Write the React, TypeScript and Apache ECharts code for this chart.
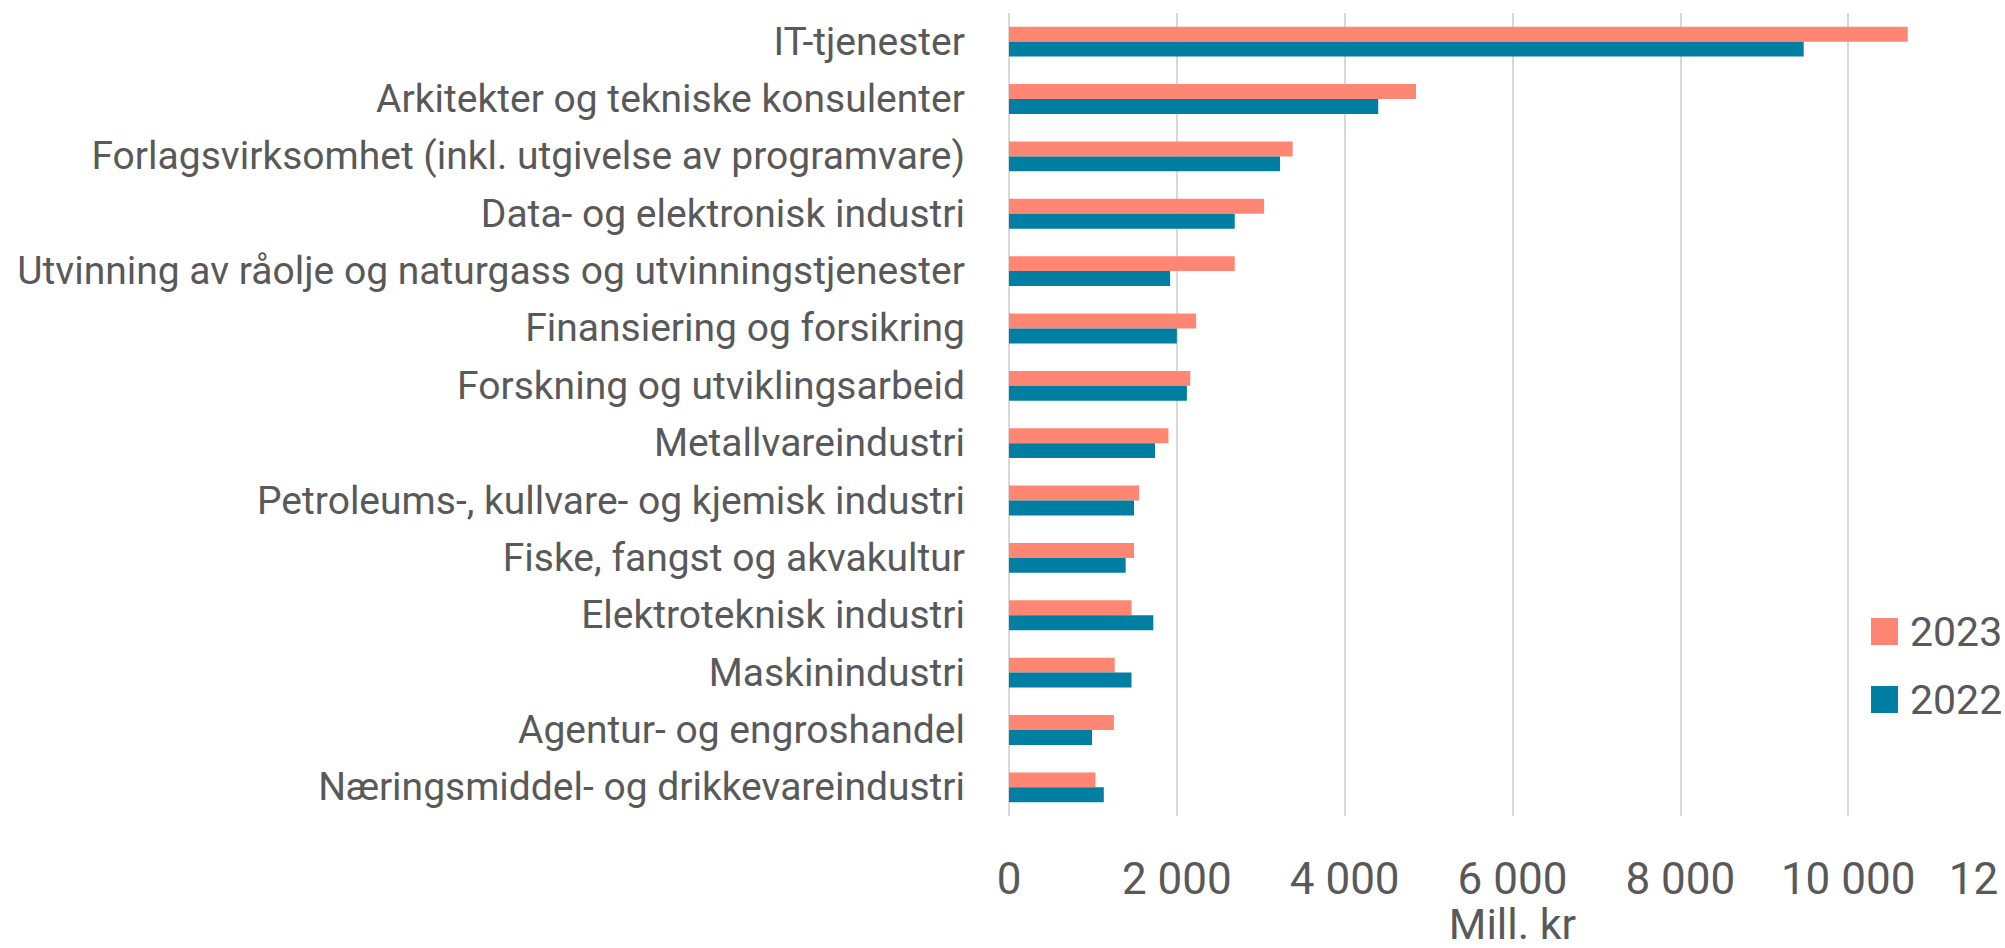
import React, { useEffect, useRef } from "react";
import * as echarts from "echarts";

const categories = [
  "IT-tjenester",
  "Arkitekter og tekniske konsulenter",
  "Forlagsvirksomhet (inkl. utgivelse av programvare)",
  "Data- og elektronisk industri",
  "Utvinning av råolje og naturgass og utvinningstjenester",
  "Finansiering og forsikring",
  "Forskning og utviklingsarbeid",
  "Metallvareindustri",
  "Petroleums-, kullvare- og kjemisk industri",
  "Fiske, fangst og akvakultur",
  "Elektroteknisk industri",
  "Maskinindustri",
  "Agentur- og engroshandel",
  "Næringsmiddel- og drikkevareindustri",
];

const values2023 = [10710, 4850, 3380, 3040, 2690, 2230, 2160, 1900, 1550, 1490, 1460, 1260, 1250, 1030];
const values2022 = [9470, 4400, 3230, 2690, 1920, 2000, 2120, 1740, 1490, 1390, 1720, 1460, 990, 1130];

const xTicks = { min: 0, max: 12000, interval: 2000 };
const axisName = "Mill. kr";

const TEXT = "#595959";
const FONT = "Roboto";

function fmt(v: number): string {
  return String(v).replace(/\B(?=(\d{3})+(?!\d))/g, " ");
}

export default function App() {
  const ref = useRef<HTMLDivElement>(null);
  useEffect(() => {
    document.body.style.margin = "0";
    const chart = echarts.init(ref.current!, null, { renderer: "svg" });
    chart.setOption({
      animation: false,
      backgroundColor: "#ffffff",
      textStyle: { fontFamily: FONT, color: TEXT },
      grid: {
        left: 1009,
        right: -11,
        top: 13,
        bottom: 132,
        containLabel: false,
        outerBoundsMode: "none",
      },
      legend: {
        orient: "vertical",
        left: 1866,
        top: 606,
        icon: "rect",
        itemWidth: 27,
        itemHeight: 27,
        itemGap: 27,
        data: ["2023", "2022"],
        textStyle: { fontFamily: FONT, fontSize: 41, color: TEXT, padding: [0, 0, 0, 7] },
      },
      xAxis: {
        type: "value",
        min: xTicks.min,
        max: xTicks.max,
        interval: xTicks.interval,
        name: axisName,
        nameLocation: "middle",
        nameGap: 88,
        nameMoveOverlap: false,
        nameTextStyle: { fontFamily: FONT, fontSize: 43, lineHeight: 40, color: TEXT },
        axisLine: { show: false },
        axisTick: { show: false },
        axisLabel: {
          fontFamily: FONT,
          fontSize: 44,
          color: TEXT,
          margin: 41,
          formatter: (v: number) => fmt(v),
        },
        splitLine: { show: true, lineStyle: { color: "#D9D9D9", width: 2 } },
      },
      yAxis: {
        type: "category",
        inverse: true,
        data: categories,
        axisLine: { show: false },
        axisTick: { show: false },
        axisLabel: { fontFamily: FONT, fontSize: 39, color: TEXT, margin: 44 },
      },
      series: [
        {
          name: "2023",
          type: "bar",
          data: values2023,
          barGap: "0%",
          barCategoryGap: "48%",
          itemStyle: { color: "#FF8672" },
        },
        {
          name: "2022",
          type: "bar",
          data: values2022,
          barGap: "0%",
          barCategoryGap: "48%",
          itemStyle: { color: "#007FA3" },
        },
      ],
    });
    return () => chart.dispose();
  }, []);
  return <div ref={ref} style={{ width: 2005, height: 948 }} />;
}
